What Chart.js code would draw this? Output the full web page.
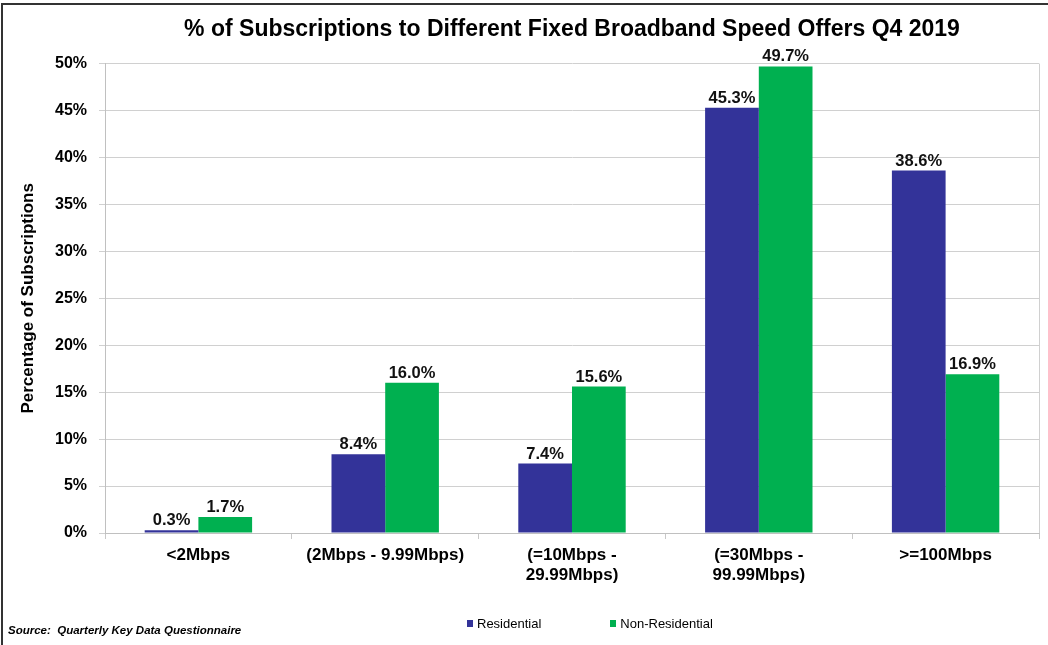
<!DOCTYPE html>
<html>
<head>
<meta charset="utf-8">
<script src="https://cdn.jsdelivr.net/npm/chart.js@4.4.1/dist/chart.umd.min.js"></script>
<style>
  html, body { margin: 0; padding: 0; background: #fff; }
  #wrap { position: relative; width: 1048px; height: 645px; overflow: hidden;
          font-family: Arial, "Liberation Sans", sans-serif; color: #000; }
  #frame { position: absolute; left: 1px; top: 3px; width: 1100px; height: 700px;
           border-top: 2px solid #333; border-left: 2px solid #333; }
  canvas { position: absolute; left: 0; top: 0; }
  #legend { position: absolute; left: 467px; top: 616px; display: flex; font-size: 13px; }
  .item { display: flex; align-items: center; margin-right: 69px; }
  .swatch { width: 6px; height: 7px; margin-right: 4px; }
  #source { position: absolute; left: 8px; top: 624px; font-size: 11.5px;
            font-weight: bold; font-style: italic; }
</style>
</head>
<body>
<div id="wrap">
  <div id="frame"></div>
  <canvas id="speedChart" width="1048" height="645"></canvas>
  <div id="legend"></div>
  <div id="source">Source:&nbsp; Quarterly Key Data Questionnaire</div>
</div>
<script>
// données
const categories = [
    '<2Mbps',
    '(2Mbps - 9.99Mbps)',
    ['(=10Mbps -', '29.99Mbps)'],
    ['(=30Mbps -', '99.99Mbps)'],
    '>=100Mbps'
];
const residential = [0.3, 8.4, 7.4, 45.3, 38.6];
const nonResidential = [1.7, 16.0, 15.6, 49.7, 16.9];
const seriesNames = ['Residential', 'Non-Residential'];
const seriesColors = ['#333399', '#00B050'];

Chart.defaults.font.family = 'Arial, "Liberation Sans", sans-serif';
Chart.defaults.color = '#000';

// étiquettes au-dessus des barres + bord droit de la zone de tracé
const barLabels = {
    id: 'barLabels',
    afterDatasetsDraw(chart) {
        const ctx = chart.ctx;
        const area = chart.chartArea;
        ctx.save();
        ctx.strokeStyle = '#d0d0d0';
        ctx.lineWidth = 1;
        ctx.beginPath();
        ctx.moveTo(Math.round(area.right) + 0.5, area.top);
        ctx.lineTo(Math.round(area.right) + 0.5, area.bottom);
        ctx.stroke();

        ctx.font = 'bold 16.5px Arial, "Liberation Sans", sans-serif';
        ctx.fillStyle = '#111';
        ctx.textAlign = 'center';
        ctx.textBaseline = 'alphabetic';
        chart.data.datasets.forEach((ds, i) => {
            chart.getDatasetMeta(i).data.forEach((bar, j) => {
                ctx.fillText(ds.data[j].toFixed(1) + '%', bar.x, bar.y - 5);
            });
        });
        ctx.restore();
    }
};

const canvas = document.getElementById('speedChart');
const chart = new Chart(canvas, {
    type: 'bar',
    data: {
        labels: categories,
        datasets: [
            { label: seriesNames[0], data: residential, backgroundColor: seriesColors[0] },
            { label: seriesNames[1], data: nonResidential, backgroundColor: seriesColors[1] }
        ]
    },
    options: {
        responsive: false,
        animation: false,
        devicePixelRatio: 1,
        categoryPercentage: 0.575,
        barPercentage: 1,
        layout: { padding: { left: 0, right: 9, top: 0, bottom: 52 } },
        plugins: {
            legend: { display: false },
            tooltip: { enabled: false },
            title: {
                display: true,
                fullSize: false,
                text: '% of Subscriptions to Different Fixed Broadband Speed Offers Q4 2019',
                color: '#000',
                font: { size: 23, weight: 'bold' },
                padding: { top: 16, bottom: 20 }
            }
        },
        scales: {
            x: {
                grid: { offset: true, drawOnChartArea: false, tickLength: 6, color: '#c8c8c8' },
                border: { color: '#c0c0c0' },
                ticks: { color: '#000', font: { size: 17, weight: 'bold' }, padding: 6,
                         maxRotation: 0, autoSkip: false },
                afterFit(scale) { scale.height = 60; }
            },
            y: {
                min: 0,
                max: 50,
                ticks: { stepSize: 5, callback: v => v + '%', color: '#000',
                         font: { size: 16, weight: 'bold' }, padding: 12 },
                grid: { color: '#d0d0d0', tickLength: 6 },
                border: { color: '#c0c0c0' },
                title: { display: true, text: 'Percentage of Subscriptions', color: '#000',
                         font: { size: 17, weight: 'bold' }, padding: { top: 18, bottom: 0 } },
                afterFit(scale) { scale.width = 105; }
            }
        }
    },
    plugins: [barLabels]
});

// légende en bas, construite à partir des séries
const legend = document.getElementById('legend');
chart.data.datasets.forEach(ds => {
    const item = document.createElement('div');
    item.className = 'item';
    const sw = document.createElement('span');
    sw.className = 'swatch';
    sw.style.background = ds.backgroundColor;
    item.appendChild(sw);
    item.appendChild(document.createTextNode(ds.label));
    legend.appendChild(item);
});
</script>
</body>
</html>
